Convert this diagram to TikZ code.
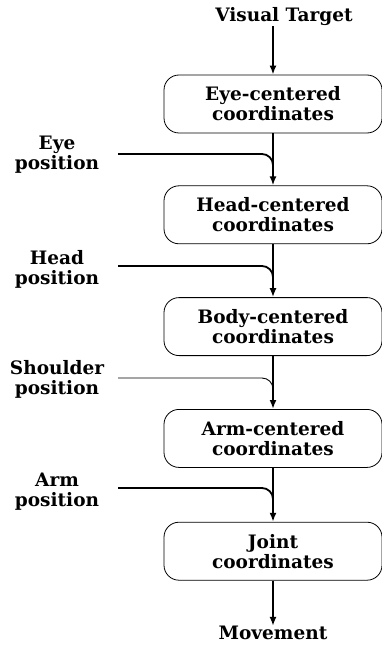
\documentclass[tikz,border=0pt]{standalone}
\usepackage{fontspec}
\setmainfont{DejaVu Serif}
\usetikzlibrary{positioning, arrows.meta, calc}

\tikzset{
  frame/.style={draw, rounded corners=15pt, line width=0.8pt, minimum width=218pt, minimum height=58pt, align=center, inner sep=0pt},
  txt/.style={align=center, inner sep=0pt},
  flow/.style={line width=1.8pt, -{Latex[length=9pt, width=7pt]}},
  feed/.style={line width=1.8pt, rounded corners=11pt},
  feedthin/.style={line width=0.9pt, rounded corners=11pt}
}

\begin{document}
\begin{tikzpicture}[x=1pt, y=-1pt, font=\bfseries\fontsize{18.5}{20}\selectfont]
            \useasboundingbox (0,0) rectangle (382,647);

            \node [txt] (target) at (284,17) {Visual Target};
            \node [frame] (eyecoord) at (273,104) {Eye-centered\\coordinates};
            \node [frame, below=52pt of eyecoord] (headcoord) {Head-centered\\coordinates};
            \node [frame, below=53pt of headcoord] (bodycoord) {Body-centered\\coordinates};
            \node [frame, below=53pt of bodycoord] (armcoord) {Arm-centered\\coordinates};
            \node [frame, below=54pt of armcoord] (jointcoord) {Joint\\coordinates};
            \node [txt] (movement) at (273,633) {Movement};

            \draw [flow] (target.south -| eyecoord) -- (eyecoord);
            \draw [flow] (eyecoord) -- (headcoord);
            \draw [flow] (headcoord) -- (bodycoord);
            \draw [flow] (bodycoord) -- (armcoord);
            \draw [flow] (armcoord) -- (jointcoord);
            \draw [flow] (jointcoord) -- (movement);

            % inputs from the side
            \node [txt] (eyepos) at (57,155) {Eye\\position};
            \node [txt] (headpos) at (57,269) {Head\\position};
            \node [txt] (shoulderpos) at (57,379) {Shoulder\\position};
            \node [txt] (armpos) at (57,492) {Arm\\position};

            \coordinate (eyein) at (118,154);
            \coordinate (headin) at (118,266);
            \coordinate (shoulderin) at (118,378);
            \coordinate (armin) at (118,488);

            \draw [feed] (eyein) -- (eyein -| eyecoord) -- ($(eyein -| eyecoord)+(0,14)$);
            \draw [feed] (headin) -- (headin -| headcoord) -- ($(headin -| headcoord)+(0,14)$);
            \draw [feedthin] (shoulderin) -- (shoulderin -| bodycoord) -- ($(shoulderin -| bodycoord)+(0,14)$);
            \draw [feed] (armin) -- (armin -| armcoord) -- ($(armin -| armcoord)+(0,14)$);
          \end{tikzpicture}
\end{document}
